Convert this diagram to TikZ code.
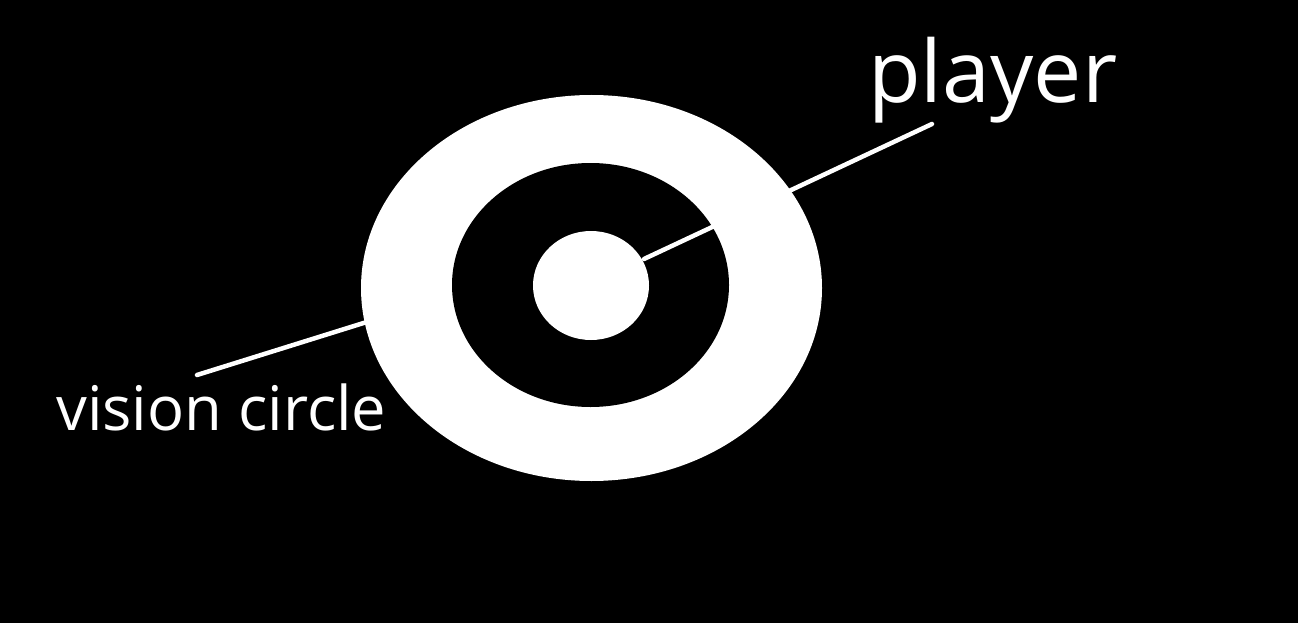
\documentclass[tikz,border=0pt]{standalone}
\usepackage{fontspec}
\setmainfont{Open Sans}
\begin{document}
\begin{tikzpicture}[x=1pt,y=-1pt,
  lbl/.style={text=white,inner sep=0pt,anchor=base west},
  pointer/.style={draw=white,line width=4.5pt,line cap=round}]
\useasboundingbox (0,0) rectangle (1298,623);
\fill[black] (0,0) rectangle (1298,623);
% rings
\fill[white] (591.5,288) ellipse [x radius=230.5, y radius=193];
\fill[black] (590.5,285) ellipse [x radius=138.5, y radius=122];
\fill[white] (591,285.5) ellipse [x radius=58, y radius=54.5];
% labels
\node[lbl,font=\fontsize{86}{92}\selectfont] (player) at (868,103) {player};
\node[lbl,font=\fontsize{61.5}{68}\selectfont] (vision) at (56,430) {vision circle};
% pointer ends
\coordinate (pA) at (644,259);
\coordinate (pB) at (932,124);
\coordinate (vA) at (197,375);
\coordinate (vB) at (370,321);
\draw[pointer] (pA) -- (pB);
\draw[pointer] (vA) -- (vB);
\end{tikzpicture}
\end{document}
